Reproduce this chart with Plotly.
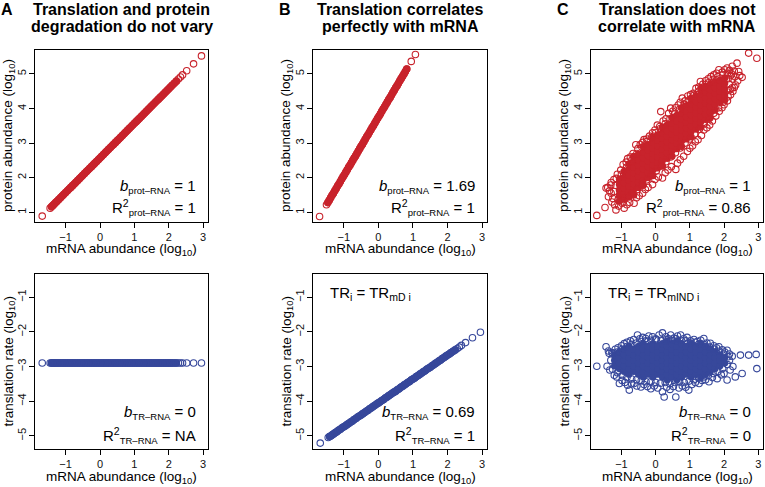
import plotly.graph_objects as go

W, H = 765, 487
FONT = "Liberation Sans, Arial, sans-serif"
RED = "#C8232C"
BLUE = "#37489B"

# ---------------- data (log10 values) ----------------
# panels A / B (bottom): mRNA abundance
mrna = [-1.68, -1.45, -1.41, -1.37, -1.33, -1.29, -1.25, -1.20, -1.15, -1.10, -1.05, -1.00, -0.95, -0.90,
        -0.85, -0.80, -0.75, -0.70, -0.65, -0.60, -0.55, -0.50, -0.45, -0.40, -0.35, -0.30, -0.25, -0.20,
        -0.15, -0.10, -0.05, 0.00, 0.05, 0.10, 0.15, 0.20, 0.25, 0.30, 0.35, 0.40, 0.45, 0.50, 0.55, 0.60,
        0.65, 0.70, 0.75, 0.80, 0.85, 0.90, 0.95, 1.00, 1.05, 1.10, 1.15, 1.20, 1.25, 1.30, 1.35, 1.40,
        1.45, 1.50, 1.55, 1.60, 1.65, 1.70, 1.75, 1.80, 1.85, 1.90, 1.95, 2.00, 2.05, 2.10, 2.16, 2.22,
        2.28, 2.34, 2.40, 2.52, 2.72, 2.95]
# panel A top: protein abundance
prot_a = [0.89, 1.12, 1.16, 1.20, 1.24, 1.28, 1.32, 1.37, 1.42, 1.47, 1.52, 1.57, 1.62, 1.67,
          1.72, 1.77, 1.82, 1.87, 1.92, 1.97, 2.02, 2.07, 2.12, 2.17, 2.22, 2.27, 2.32, 2.37,
          2.42, 2.47, 2.52, 2.57, 2.62, 2.67, 2.72, 2.77, 2.82, 2.87, 2.92, 2.97, 3.02, 3.07, 3.12, 3.17,
          3.22, 3.27, 3.32, 3.37, 3.42, 3.47, 3.52, 3.57, 3.62, 3.67, 3.72, 3.77, 3.82, 3.87, 3.92, 3.97,
          4.02, 4.07, 4.12, 4.17, 4.22, 4.27, 4.32, 4.37, 4.42, 4.47, 4.52, 4.57, 4.62, 4.67, 4.73, 4.79,
          4.85, 4.91, 4.97, 5.09, 5.29, 5.52]
# panel A bottom: translation rate
tr_a = [-2.9, -2.9, -2.9, -2.9, -2.9, -2.9, -2.9, -2.9, -2.9, -2.9, -2.9, -2.9, -2.9, -2.9,
        -2.9, -2.9, -2.9, -2.9, -2.9, -2.9, -2.9, -2.9, -2.9, -2.9, -2.9, -2.9, -2.9, -2.9,
        -2.9, -2.9, -2.9, -2.9, -2.9, -2.9, -2.9, -2.9, -2.9, -2.9, -2.9, -2.9, -2.9, -2.9, -2.9, -2.9,
        -2.9, -2.9, -2.9, -2.9, -2.9, -2.9, -2.9, -2.9, -2.9, -2.9, -2.9, -2.9, -2.9, -2.9, -2.9, -2.9,
        -2.9, -2.9, -2.9, -2.9, -2.9, -2.9, -2.9, -2.9, -2.9, -2.9, -2.9, -2.9, -2.9, -2.9, -2.9, -2.9,
        -2.9, -2.9, -2.9, -2.9, -2.9, -2.9]
# panel B bottom: translation rate
tr_b = [-5.21, -5.05, -5.02, -5.00, -4.97, -4.94, -4.91, -4.88, -4.84, -4.81, -4.77, -4.74, -4.71, -4.67,
        -4.64, -4.60, -4.57, -4.53, -4.50, -4.46, -4.43, -4.40, -4.36, -4.33, -4.29, -4.26, -4.22, -4.19,
        -4.15, -4.12, -4.08, -4.05, -4.02, -3.98, -3.95, -3.91, -3.88, -3.84, -3.81, -3.77, -3.74, -3.71,
        -3.67, -3.64, -3.60, -3.57, -3.53, -3.50, -3.46, -3.43, -3.39, -3.36, -3.33, -3.29, -3.26, -3.22,
        -3.19, -3.15, -3.12, -3.08, -3.05, -3.02, -2.98, -2.95, -2.91, -2.88, -2.84, -2.81, -2.77, -2.74,
        -2.70, -2.67, -2.64, -2.60, -2.56, -2.52, -2.48, -2.44, -2.39, -2.31, -2.17, -2.01]
# panel B top: mRNA and protein abundance
mrna_b = [-1.70, -1.50, -1.46, -1.42, -1.38, -1.34, -1.30, -1.26, -1.22, -1.18, -1.14, -1.10, -1.06,
          -1.02, -0.98, -0.94, -0.90, -0.86, -0.82, -0.78, -0.74, -0.70, -0.66, -0.62, -0.58, -0.54,
          -0.50, -0.46, -0.42, -0.38, -0.34, -0.30, -0.26, -0.22, -0.18, -0.14, -0.10, -0.06, -0.02,
          0.02, 0.06, 0.10, 0.14, 0.18, 0.22, 0.26, 0.30, 0.34, 0.38, 0.42, 0.46, 0.50, 0.54, 0.58,
          0.62, 0.66, 0.70, 0.74, 0.78, 0.82, 0.95, 1.07]
prot_b = [0.88, 1.22, 1.28, 1.35, 1.42, 1.49, 1.55, 1.62, 1.69, 1.76, 1.82, 1.89, 1.96,
          2.03, 2.09, 2.16, 2.23, 2.30, 2.36, 2.43, 2.50, 2.57, 2.63, 2.70, 2.77, 2.84,
          2.91, 2.97, 3.04, 3.11, 3.18, 3.24, 3.31, 3.38, 3.45, 3.51, 3.58, 3.65, 3.72,
          3.78, 3.85, 3.92, 3.99, 4.05, 4.12, 4.19, 4.26, 4.32, 4.39, 4.46, 4.53, 4.60, 4.66, 4.73,
          4.80, 4.87, 4.93, 5.00, 5.07, 5.14, 5.36, 5.56]
# index ranges where the points overlap into a solid band
DENSE_A = slice(2, 76)
DENSE_B = slice(2, 60)

# panel C top: dense core of the cloud (mRNA, protein)
c_top_core = [
    (-1.06, 1.32), (-1.06, 1.48), (-1.06, 1.64), (-1.06, 1.80), (-1.06, 1.96),
    (-0.92, 1.38), (-0.92, 1.54), (-0.92, 1.70), (-0.92, 1.86), (-0.92, 2.02), (-0.92, 2.18),
    (-0.78, 1.44), (-0.78, 1.60), (-0.78, 1.76), (-0.78, 1.92), (-0.78, 2.08), (-0.78, 2.24), (-0.78, 2.40),
    (-0.64, 1.50), (-0.64, 1.66), (-0.64, 1.82), (-0.64, 1.98), (-0.64, 2.14), (-0.64, 2.30), (-0.64, 2.46), (-0.64, 2.62),
    (-0.50, 1.72), (-0.50, 1.88), (-0.50, 2.04), (-0.50, 2.20), (-0.50, 2.36), (-0.50, 2.52), (-0.50, 2.68),
    (-0.36, 1.78), (-0.36, 1.94), (-0.36, 2.10), (-0.36, 2.26), (-0.36, 2.42), (-0.36, 2.58), (-0.36, 2.74), (-0.36, 2.90),
    (-0.22, 2.00), (-0.22, 2.16), (-0.22, 2.32), (-0.22, 2.48), (-0.22, 2.64), (-0.22, 2.80), (-0.22, 2.96),
    (-0.08, 2.06), (-0.08, 2.22), (-0.08, 2.38), (-0.08, 2.54), (-0.08, 2.70), (-0.08, 2.86), (-0.08, 3.02), (-0.08, 3.18),
    (0.06, 2.28), (0.06, 2.44), (0.06, 2.60), (0.06, 2.76), (0.06, 2.92), (0.06, 3.08), (0.06, 3.24),
    (0.20, 2.34), (0.20, 2.50), (0.20, 2.66), (0.20, 2.82), (0.20, 2.98), (0.20, 3.14), (0.20, 3.30), (0.20, 3.46),
    (0.34, 2.56), (0.34, 2.72), (0.34, 2.88), (0.34, 3.04), (0.34, 3.20), (0.34, 3.36), (0.34, 3.52),
    (0.48, 2.62), (0.48, 2.78), (0.48, 2.94), (0.48, 3.10), (0.48, 3.26), (0.48, 3.42), (0.48, 3.58), (0.48, 3.74),
    (0.62, 2.84), (0.62, 3.00), (0.62, 3.16), (0.62, 3.32), (0.62, 3.48), (0.62, 3.64), (0.62, 3.80),
    (0.76, 2.90), (0.76, 3.06), (0.76, 3.22), (0.76, 3.38), (0.76, 3.54), (0.76, 3.70), (0.76, 3.86), (0.76, 4.02),
    (0.90, 3.12), (0.90, 3.28), (0.90, 3.44), (0.90, 3.60), (0.90, 3.76), (0.90, 3.92), (0.90, 4.08),
    (1.04, 3.18), (1.04, 3.34), (1.04, 3.50), (1.04, 3.66), (1.04, 3.82), (1.04, 3.98), (1.04, 4.14), (1.04, 4.30),
    (1.18, 3.40), (1.18, 3.56), (1.18, 3.72), (1.18, 3.88), (1.18, 4.04), (1.18, 4.20), (1.18, 4.36),
    (1.32, 3.46), (1.32, 3.62), (1.32, 3.78), (1.32, 3.94), (1.32, 4.10), (1.32, 4.26), (1.32, 4.42), (1.32, 4.58),
    (1.46, 3.68), (1.46, 3.84), (1.46, 4.00), (1.46, 4.16), (1.46, 4.32), (1.46, 4.48), (1.46, 4.64),
    (1.60, 3.74), (1.60, 3.90), (1.60, 4.06), (1.60, 4.22), (1.60, 4.38), (1.60, 4.54), (1.60, 4.70),
    (1.74, 3.96), (1.74, 4.12), (1.74, 4.28), (1.74, 4.44), (1.74, 4.60), (1.74, 4.76),
    (1.88, 4.18), (1.88, 4.34), (1.88, 4.50), (1.88, 4.66), (1.88, 4.82),
    (2.02, 4.24), (2.02, 4.40), (2.02, 4.56), (2.02, 4.72), (2.02, 4.88),
]
# panel C top: scattered points around the core (mRNA, protein)
c_top_edge = [
    (-1.40, 1.72), (-1.30, 1.86), (-1.22, 1.95), (-1.12, 2.10), (-1.02, 2.22), (-0.95, 2.38), (-0.86, 2.45),
    (-0.82, 2.55), (-0.74, 2.60), (-0.66, 2.70), (-0.58, 2.95), (-0.52, 2.84), (-0.45, 2.96), (-0.38, 3.02),
    (-0.34, 3.10), (-0.26, 3.12), (-0.18, 3.20), (-0.09, 3.30), (-0.02, 3.38), (0.05, 3.52), (0.12, 3.48),
    (0.15, 3.91), (0.22, 3.64), (0.30, 3.70), (0.38, 3.86), (0.44, 4.01), (0.50, 3.92), (0.58, 4.02),
    (0.66, 4.10), (0.72, 4.18), (0.78, 4.30), (0.86, 4.22), (0.94, 4.36), (1.02, 4.40), (1.10, 4.44),
    (1.18, 4.58), (1.26, 4.62), (1.31, 4.78), (1.38, 4.70), (1.46, 4.80), (1.54, 4.86), (1.62, 4.92),
    (1.70, 4.97), (1.78, 5.02), (1.85, 5.12), (1.95, 5.05), (2.02, 5.12), (2.09, 5.17), (2.16, 5.10),
    (2.24, 5.22), (2.30, 5.08), (2.38, 5.31), (2.43, 5.07), (2.53, 4.90), (2.30, 4.61), (2.72, 5.60),
    (2.96, 5.45), (2.20, 4.95), (2.12, 4.86),
    (-1.72, 0.91), (-1.48, 1.14), (-1.45, 1.70), (-1.31, 1.79), (-1.38, 1.45), (-1.28, 1.30), (-1.16, 1.07),
    (-1.20, 1.22), (-1.08, 1.18), (-0.98, 1.26), (-0.92, 1.12), (-0.84, 1.22), (-0.76, 1.28), (-0.63, 1.26),
    (-0.56, 1.42), (-0.48, 1.48), (-0.38, 1.55), (-0.30, 1.66), (-0.22, 1.72), (-0.09, 1.80), (-0.02, 1.95),
    (0.08, 2.02), (0.20, 1.99), (0.28, 2.14), (0.36, 2.22), (0.46, 2.32), (0.59, 2.24), (0.64, 2.42),
    (0.72, 2.52), (0.82, 2.62), (0.93, 2.76), (1.00, 2.85), (1.08, 2.92), (1.16, 3.04), (1.24, 3.10),
    (1.34, 3.22), (1.41, 3.38), (1.50, 3.44), (1.58, 3.52), (1.66, 3.64), (1.76, 3.78), (1.86, 3.92),
    (1.94, 4.02), (2.00, 4.11), (2.10, 4.22), (2.19, 4.40), (2.26, 4.50), (2.34, 4.68), (2.40, 4.80),
    (2.46, 4.95),
    (-1.15, 1.98), (-1.00, 2.10), (-0.85, 2.30), (-0.70, 2.50), (-0.55, 2.70), (-0.40, 2.88), (-0.25, 3.05),
    (-0.12, 3.16), (0.00, 3.30), (0.14, 3.42), (0.28, 3.56), (0.42, 3.70), (0.56, 3.84), (0.70, 3.98),
    (0.84, 4.12), (0.98, 4.24), (1.12, 4.38), (1.26, 4.50), (1.40, 4.62), (1.54, 4.74), (1.68, 4.84),
    (1.82, 4.92), (1.96, 4.98), (2.10, 5.02), (2.22, 5.00),
    (-1.25, 1.40), (-1.10, 1.36), (-0.96, 1.40), (-0.82, 1.46), (-0.68, 1.56), (-0.54, 1.66), (-0.40, 1.80),
    (-0.26, 1.94), (-0.12, 2.08), (0.02, 2.20), (0.16, 2.34), (0.30, 2.46), (0.44, 2.60), (0.58, 2.72),
    (0.72, 2.86), (0.86, 3.00), (1.00, 3.12), (1.14, 3.26), (1.28, 3.40), (1.42, 3.56), (1.56, 3.70),
    (1.70, 3.86), (1.84, 4.02), (1.98, 4.18), (2.12, 4.34), (2.24, 4.60),
    (-1.22, 1.60), (-1.30, 1.55), (-1.18, 1.78), (-1.35, 1.62),
    (2.15, 4.70), (2.25, 4.85), (2.32, 4.92), (2.18, 4.55),
]

# panel C bottom: dense core of the cloud (mRNA, translation rate)
c_bot_core = [
    (-1.20, -2.98), (-1.20, -2.82), (-1.20, -2.66),
    (-1.06, -3.06), (-1.06, -2.90), (-1.06, -2.74), (-1.06, -2.58),
    (-0.92, -3.14), (-0.92, -2.98), (-0.92, -2.82), (-0.92, -2.66), (-0.92, -2.50),
    (-0.78, -3.22), (-0.78, -3.06), (-0.78, -2.90), (-0.78, -2.74), (-0.78, -2.58), (-0.78, -2.42),
    (-0.64, -3.14), (-0.64, -2.98), (-0.64, -2.82), (-0.64, -2.66), (-0.64, -2.50),
    (-0.50, -3.22), (-0.50, -3.06), (-0.50, -2.90), (-0.50, -2.74), (-0.50, -2.58), (-0.50, -2.42),
    (-0.36, -3.30), (-0.36, -3.14), (-0.36, -2.98), (-0.36, -2.82), (-0.36, -2.66), (-0.36, -2.50), (-0.36, -2.34),
    (-0.22, -3.22), (-0.22, -3.06), (-0.22, -2.90), (-0.22, -2.74), (-0.22, -2.58), (-0.22, -2.42),
    (-0.08, -3.30), (-0.08, -3.14), (-0.08, -2.98), (-0.08, -2.82), (-0.08, -2.66), (-0.08, -2.50), (-0.08, -2.34),
    (0.06, -3.22), (0.06, -3.06), (0.06, -2.90), (0.06, -2.74), (0.06, -2.58), (0.06, -2.42),
    (0.20, -3.30), (0.20, -3.14), (0.20, -2.98), (0.20, -2.82), (0.20, -2.66), (0.20, -2.50), (0.20, -2.34),
    (0.34, -3.38), (0.34, -3.22), (0.34, -3.06), (0.34, -2.90), (0.34, -2.74), (0.34, -2.58), (0.34, -2.42), (0.34, -2.26),
    (0.48, -3.30), (0.48, -3.14), (0.48, -2.98), (0.48, -2.82), (0.48, -2.66), (0.48, -2.50), (0.48, -2.34),
    (0.62, -3.38), (0.62, -3.22), (0.62, -3.06), (0.62, -2.90), (0.62, -2.74), (0.62, -2.58), (0.62, -2.42), (0.62, -2.26),
    (0.76, -3.30), (0.76, -3.14), (0.76, -2.98), (0.76, -2.82), (0.76, -2.66), (0.76, -2.50), (0.76, -2.34),
    (0.90, -3.22), (0.90, -3.06), (0.90, -2.90), (0.90, -2.74), (0.90, -2.58), (0.90, -2.42),
    (1.04, -3.30), (1.04, -3.14), (1.04, -2.98), (1.04, -2.82), (1.04, -2.66), (1.04, -2.50), (1.04, -2.34),
    (1.18, -3.22), (1.18, -3.06), (1.18, -2.90), (1.18, -2.74), (1.18, -2.58), (1.18, -2.42),
    (1.32, -3.30), (1.32, -3.14), (1.32, -2.98), (1.32, -2.82), (1.32, -2.66), (1.32, -2.50), (1.32, -2.34),
    (1.46, -3.22), (1.46, -3.06), (1.46, -2.90), (1.46, -2.74), (1.46, -2.58), (1.46, -2.42),
    (1.60, -3.14), (1.60, -2.98), (1.60, -2.82), (1.60, -2.66), (1.60, -2.50),
    (1.74, -3.06), (1.74, -2.90), (1.74, -2.74), (1.74, -2.58),
    (1.88, -2.98), (1.88, -2.82), (1.88, -2.66),
    (2.02, -2.90), (2.02, -2.74),
]
# panel C bottom: scattered points around the core (mRNA, translation rate)
c_bot_edge = [
    (-1.45, -2.43), (-1.38, -2.55), (-1.36, -2.62), (-1.28, -2.60), (-1.18, -2.50), (-1.10, -2.46),
    (-1.00, -2.40), (-0.92, -2.34), (-0.84, -2.30), (-0.74, -2.26), (-0.64, -2.22), (-0.53, -2.09),
    (-0.46, -2.20), (-0.38, -2.16), (-0.29, -2.19), (-0.20, -2.12), (-0.09, -2.14), (0.00, -2.20),
    (0.10, -2.09), (0.20, -2.03), (0.30, -2.14), (0.38, -2.20), (0.44, -2.09), (0.54, -2.18),
    (0.64, -2.12), (0.73, -2.09), (0.82, -2.20), (0.92, -2.16), (1.02, -2.26), (1.12, -2.22),
    (1.22, -2.28), (1.32, -2.24), (1.41, -2.19), (1.50, -2.32), (1.60, -2.33), (1.70, -2.40),
    (1.78, -2.46), (1.85, -2.43), (1.95, -2.52), (2.02, -2.58), (2.09, -2.53), (2.16, -2.64),
    (2.24, -2.70), (2.48, -2.67), (2.72, -2.67), (2.94, -2.65),
    (-1.72, -2.99), (-1.42, -2.99), (-1.31, -2.82), (-1.34, -3.10), (-1.21, -3.25), (-1.14, -3.30),
    (-1.06, -3.49), (-0.98, -3.40), (-0.90, -3.46), (-0.82, -3.54), (-0.77, -3.68), (-0.70, -3.50),
    (-0.63, -3.49), (-0.55, -3.56), (-0.43, -3.59), (-0.34, -3.52), (-0.24, -3.58), (-0.14, -3.64),
    (-0.04, -3.56), (0.06, -3.62), (0.20, -3.73), (0.25, -3.88), (0.32, -3.60), (0.42, -3.66),
    (0.52, -3.58), (0.59, -3.88), (0.68, -3.62), (0.78, -3.56), (0.88, -3.60), (0.97, -3.68),
    (1.06, -3.52), (1.16, -3.46), (1.27, -3.49), (1.36, -3.40), (1.46, -3.38), (1.56, -3.44),
    (1.66, -3.32), (1.80, -3.35), (1.92, -3.24), (2.00, -3.20), (2.09, -3.39), (2.18, -3.10),
    (2.26, -3.00), (2.33, -3.30), (2.53, -3.20), (2.96, -3.06),
    (-1.25, -2.62), (-1.12, -2.58), (-0.98, -2.50), (-0.84, -2.42), (-0.70, -2.36), (-0.56, -2.32),
    (-0.42, -2.28), (-0.28, -2.26), (-0.14, -2.24), (0.02, -2.22), (0.16, -2.24), (0.32, -2.22),
    (0.46, -2.24), (0.60, -2.20), (0.74, -2.24), (0.88, -2.26), (1.02, -2.32), (1.16, -2.30),
    (1.30, -2.34), (1.44, -2.38), (1.58, -2.44), (1.72, -2.50), (1.86, -2.56), (2.00, -2.64),
    (2.12, -2.72),
    (-1.26, -3.08), (-1.12, -3.18), (-0.98, -3.26), (-0.84, -3.32), (-0.70, -3.36), (-0.56, -3.38),
    (-0.42, -3.40), (-0.28, -3.44), (-0.14, -3.44), (0.00, -3.46), (0.14, -3.48), (0.28, -3.46),
    (0.42, -3.50), (0.56, -3.46), (0.70, -3.44), (0.84, -3.46), (0.98, -3.42), (1.12, -3.38),
    (1.26, -3.34), (1.40, -3.30), (1.54, -3.26), (1.68, -3.20), (1.82, -3.14), (1.96, -3.06),
    (2.10, -2.94), (2.16, -2.82),
]

x_ticks = [-1, 0, 1, 2, 3]
prot_ticks = [1, 2, 3, 4, 5]
tr_ticks = [-5, -4, -3, -2, -1]

panel_letters = ["A", "B", "C"]
panel_titles = [("Translation and protein", "degradation do not vary"),
                ("Translation correlates", "perfectly with mRNA"),
                ("Translation does not", "correlate with mRNA")]
b_prot = ["1", "1.69", "1"]
r2_prot = ["1", "1", "0.86"]
b_tr = ["0", "0.69", "0"]
r2_tr = ["NA", "1", "0"]
tr_labels = [None, "TR<sub>i</sub> = TR<sub>mD i</sub>", "TR<sub>i</sub> = TR<sub>mIND i</sub>"]

# ---------------- layout geometry (pixels) ----------------
cols = [(35, 208), (313, 487), (591, 763)]
rows = [(50, 222), (274, 449)]
XR = [-1.89, 3.14]
YR_TOP = [0.72, 5.69]
YR_BOT = [-5.38, -0.33]

fig = go.Figure()


def ax_ids(k):
    s = "" if k == 1 else str(k)
    return "x" + s, "y" + s


def open_pts(x, y, color, k):
    xa, ya = ax_ids(k)
    fig.add_trace(go.Scatter(
        x=x, y=y, mode="markers", xaxis=xa, yaxis=ya, showlegend=False, hoverinfo="skip",
        marker=dict(symbol="circle-open", size=6.5, color=color, line=dict(width=1.1))))


def solid_pts(x, y, color, k, size=7.2):
    xa, ya = ax_ids(k)
    fig.add_trace(go.Scatter(
        x=x, y=y, mode="markers", xaxis=xa, yaxis=ya, showlegend=False, hoverinfo="skip",
        marker=dict(symbol="circle", size=size, color=color, line=dict(width=0))))


def split(pairs):
    return [p[0] for p in pairs], [p[1] for p in pairs]


# A top
solid_pts(mrna[DENSE_A], prot_a[DENSE_A], RED, 1, 7.4)
open_pts(mrna, prot_a, RED, 1)
# B top
solid_pts(mrna_b[DENSE_B], prot_b[DENSE_B], RED, 2, 7.4)
open_pts(mrna_b, prot_b, RED, 2)
# C top
cx, cy = split(c_top_core)
solid_pts(cx, cy, RED, 3)
ex, ey = split(c_top_edge)
open_pts(ex, ey, RED, 3)
# A bottom
solid_pts(mrna[DENSE_A], tr_a[DENSE_A], BLUE, 4, 7.4)
open_pts(mrna, tr_a, BLUE, 4)
# B bottom
solid_pts(mrna[DENSE_A], tr_b[DENSE_A], BLUE, 5, 7.4)
open_pts(mrna, tr_b, BLUE, 5)
# C bottom
cx, cy = split(c_bot_core)
solid_pts(cx, cy, BLUE, 6)
ex, ey = split(c_bot_edge)
open_pts(ex, ey, BLUE, 6)

axis_common = dict(showgrid=False, zeroline=False, showline=True, linecolor="black", linewidth=1,
                   mirror=True, ticks="outside", ticklen=5, tickwidth=1, tickcolor="black",
                   tickfont=dict(size=11, color="#111111", family=FONT))
layout = {}
for r, (yt, yb) in enumerate(rows):
    for c, (xl, xr) in enumerate(cols):
        k = r * 3 + c + 1
        sfx = "" if k == 1 else str(k)
        layout["xaxis" + sfx] = dict(axis_common, domain=[xl / W, xr / W], range=XR,
                                     tickvals=x_ticks, anchor="y" + sfx, ticklabelstandoff=0)
        layout["yaxis" + sfx] = dict(axis_common, domain=[1 - yb / H, 1 - yt / H],
                                     range=YR_TOP if r == 0 else YR_BOT,
                                     tickvals=prot_ticks if r == 0 else tr_ticks,
                                     tickangle=-90, anchor="x" + sfx, ticklabelstandoff=-1)

fig.update_layout(width=W, height=H, margin=dict(l=0, r=0, t=0, b=0),
                  paper_bgcolor="white", plot_bgcolor="white",
                  font=dict(family=FONT, color="black"), **layout)


def ann(text, x, y, size, xanchor="center", yanchor="middle", angle=0):
    fig.add_annotation(text=text, x=x / W, y=1 - y / H, xref="paper", yref="paper",
                       xanchor=xanchor, yanchor=yanchor, showarrow=False, textangle=angle,
                       font=dict(size=size, family=FONT, color="black"))


SUB = '<sub><span style="font-size:9.5px">{}</span></sub>'
for c, (xl, xr) in enumerate(cols):
    xc = (xl + xr) / 2
    ann("<b>" + panel_letters[c] + "</b>", xl - 28, 10, 16)
    ann("<b>" + panel_titles[c][0] + "</b>", xc, 10, 16)
    ann("<b>" + panel_titles[c][1] + "</b>", xc, 27, 16)
    for r, (yt, yb) in enumerate(rows):
        ann("mRNA abundance (log<sub>10</sub>)", xc, yb + 28, 13.5)
        yc = (yt + yb) / 2
        ytitle = "protein abundance (log<sub>10</sub>)" if r == 0 else "translation rate (log<sub>10</sub>)"
        ann(ytitle, xl - 26, yc, 13.5, angle=-90)
    rx = xr - 10
    ann("<i>b</i>" + SUB.format("prot–RNA") + " = " + b_prot[c], rx, 186, 15, xanchor="right")
    ann("R<sup>2</sup>" + SUB.format("prot–RNA") + " = " + r2_prot[c], rx, 207, 15, xanchor="right")
    ann("<i>b</i>" + SUB.format("TR–RNA") + " = " + b_tr[c], rx, 412, 15, xanchor="right")
    ann("R<sup>2</sup>" + SUB.format("TR–RNA") + " = " + r2_tr[c], rx, 435, 15, xanchor="right")
    if tr_labels[c]:
        ann(tr_labels[c], xl + 15, 293, 15, xanchor="left")

fig.write_html("out.html", config={"displayModeBar": False},
               post_script="document.body.style.margin='0px';")
